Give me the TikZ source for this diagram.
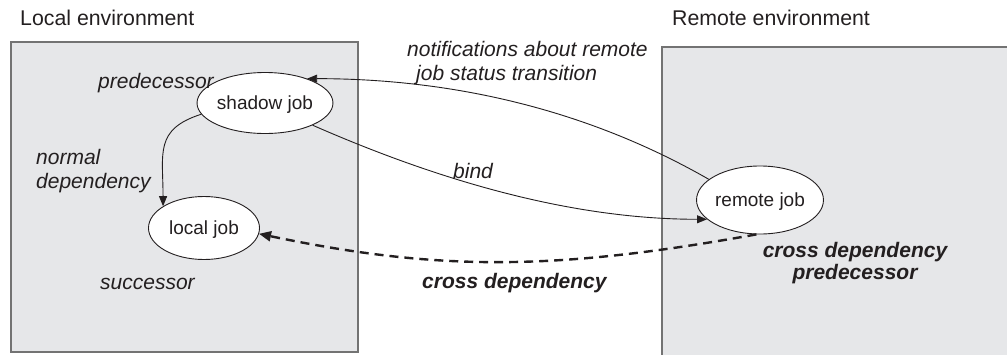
\documentclass[tikz,border=0pt]{standalone}
\usepackage{fontspec}
\setmainfont{Liberation Sans}
\usetikzlibrary{arrows.meta,shapes.geometric}
\definecolor{boxfill}{RGB}{230,231,233}
\definecolor{boxline}{RGB}{115,115,115}
\definecolor{ink}{RGB}{35,31,32}
\begin{document}
\begin{tikzpicture}[x=1pt,y=-1pt,
  env/.style={fill=boxfill, draw=boxline, line width=1.4pt},
  job/.style={ellipse, draw=ink, fill=white, line width=0.9pt, inner sep=0pt, text depth=0pt,
    font=\fontsize{19}{22}\selectfont, text=ink},
  lbl/.style={inner sep=0pt, anchor=base west, font=\fontsize{21}{25}\selectfont\itshape, text=ink},
  blbl/.style={inner sep=0pt, anchor=base, font=\fontsize{21}{25}\selectfont\bfseries\itshape, text=ink},
  title/.style={inner sep=0pt, anchor=base west, font=\fontsize{21.3}{25}\selectfont, text=ink},
  conn/.style={draw=ink, line width=0.9pt, -{Triangle[length=10pt,width=8pt]}},
  crossdep/.style={draw=ink, line width=2.4pt, dash pattern=on 9pt off 6pt, -{Triangle[length=12pt,width=10pt]}}
]
\useasboundingbox (0,0) rectangle (1007,354);
% environments
\path[env] (11,42) rectangle (358,352);
\fill[boxfill] (662,47) rectangle (1012,360);
\draw[boxline, line width=1.4pt] (1012,47) -- (662,47) -- (662,360);
% titles
\node[title] (lenv) at (20,25) {Local environment};
\node[title] (renv) at (672,25) {Remote environment};
% jobs
\node[job, minimum width=108pt, minimum height=61pt] (shadow) at (265,103) {shadow job};
\node[job, minimum width=111pt, minimum height=63pt] (local) at (204,228) {local job};
\node[job, minimum width=110pt, minimum height=68pt] (remote) at (760,200) {remote job};
% labels
\node[lbl] (pred) at (98,88) {predecessor};
\node[lbl] (normal1) at (36,164) {normal};
\node[lbl] (normal2) at (36,188) {dependency};
\node[lbl] (succ) at (100,289) {successor};
\node[lbl] (notif1) at (407,56) {notifications about remote};
\node[lbl] (notif2) at (416,80) {job status transition};
\node[lbl] (bind) at (453,178) {bind};
\node[blbl, anchor=base west] (cross) at (422,288) {cross dependency};
\node[blbl] (cdp1) at (855,257) {cross dependency};
\node[blbl] (cdp2) at (855,279) {predecessor};
% connectors
\draw[conn] (remote.158) .. controls +(-143,-82) and +(115,0) .. (shadow.30);
\draw[conn] (shadow.-25) .. controls +(105,46) and +(-150,0) .. (remote.200);
\draw[conn] (shadow.190) .. controls +(-47,15) and +(0,-53) .. (local.152);
\draw[crossdep] (remote.264) .. controls +(-200,36) and +(181,38) .. (local.-6);
\end{tikzpicture}
\end{document}
